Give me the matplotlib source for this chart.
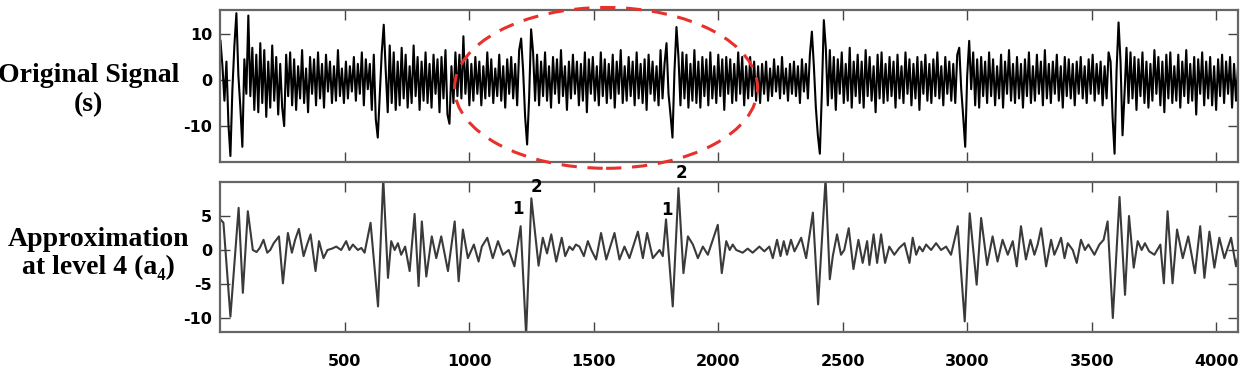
import numpy as np
import matplotlib.pyplot as plt
from matplotlib.patches import Ellipse

plt.rcParams['axes.unicode_minus'] = False

# senal original, leida a ojo cada 8 muestras
paso = 8
senal_original = [
    8.5, 3.0, -4.5, 4.0, -9.5, -16.5, -2.0, 7.5, 14.5, 1.0, -6.0, -14.5, 4.5, -3.0, 14.0, -3.5,
    7.0, -6.5, 5.5, -7.0, 8.0, -5.0, 6.5, -8.0, 4.0, -6.0, 7.5, -4.5, 5.0, -7.5, 3.5, -6.0,
    -10.0, 5.5, -3.5, 6.0, -5.5, 4.5, -6.5, 3.0, -4.0, 6.5, -5.0, 2.5, -7.0, 5.0, -3.0, 4.5,
    -5.5, 6.0, -4.0, 3.5, -6.0, 5.5, -2.5, 4.0, -5.0, 3.0, -4.5, 6.5, -3.5, 2.5, -5.0, 4.0,
    -4.0, 3.0, -2.5, 5.0, -4.5, 3.5, -3.0, 6.0, -5.5, 4.5, -2.0, 3.5, -6.5, 5.5, -8.5, -12.5,
    -3.0, 6.0, 12.0, 2.0, -7.0, 7.5, -5.0, 6.0, -6.5, 4.0, -5.5, 7.0, -4.0, 5.5, -6.0, 3.0,
    -5.0, 7.5, -3.5, 5.0, -6.5, 4.0, -4.5, 6.0, -5.0, 3.5, -6.0, 5.5, -3.0, 4.5, -7.0, 5.0,
    -4.0, 6.5, -7.5, -9.5, 3.0, -5.0, 6.0, -3.5, 5.5, -4.0, 9.5, -3.0, 4.5, -5.5, 3.5, -4.5,
    5.0, -3.0, 4.0, -5.5, 3.0, -4.0, 6.0, -3.5, 4.5, -5.0, 2.5, -3.5, 5.5, -4.5, 3.0, -6.0,
    4.5, -3.0, 5.0, -4.0, 3.5, -5.5, 6.5, 9.0, 2.0, -8.0, -14.0, -4.0, 11.0, 6.0, -4.5, 5.5,
    -5.5, 4.0, -3.5, 6.0, -4.5, 3.0, -6.0, 5.0, -3.0, 4.5, -5.0, 6.5, -3.5, 3.0, -6.5, 4.0,
    -4.0, 5.5, -3.0, 4.0, -5.5, 3.5, -4.5, 6.0, -7.0, 4.5, -3.0, 5.0, -4.5, 3.0, -5.5, 6.0,
    -3.5, 4.5, -5.0, 3.5, -4.0, 5.5, -6.0, 4.0, -3.0, 6.5, -5.0, 3.0, -4.5, 5.0, -3.5, 4.0,
    -5.5, 6.0, -4.0, 3.5, -5.0, 4.5, -6.5, 5.5, -3.0, 4.0, -4.5, 3.0, -5.5, 6.5, -4.0, 3.5,
    8.0, -3.0, -7.5, -12.5, 2.0, 11.5, 5.0, -5.5, 6.0, -4.0, 5.5, -6.0, 3.5, -4.5, 6.5, -5.0,
    4.0, -6.0, 5.0, -3.5, 4.5, -5.5, 6.0, -4.0, 3.0, -5.0, 5.5, -3.5, 4.5, -6.5, 5.0, -3.0,
    4.5, -5.0, 3.5, -4.5, 6.0, -3.0, 5.0, -5.5, 3.0, -4.0, 5.0, -3.5, 4.0, -4.5, 3.0, -5.0,
    3.5, -3.0, 4.0, -4.5, 2.5, -3.5, 4.5, -2.5, 3.0, -4.0, 5.0, -3.0, 2.5, -4.5, 3.5, -3.0,
    4.0, -3.5, 3.0, -5.0, 4.5, -2.5, 3.5, -4.0, 5.5, 10.5, 3.0, -6.0, -12.0, -16.0, -3.0, 13.0,
    7.0, -5.5, 6.5, -4.0, 5.0, -6.5, 4.5, -3.0, 6.0, -5.0, 3.5, -4.5, 7.0, -6.0, 4.0, -3.5,
    5.5, -5.0, 4.0, -6.0, 6.5, -3.5, 5.0, -4.5, 3.0, -7.0, 5.5, -4.0, 6.0, -5.0, 3.5, -4.5,
    5.0, -3.5, 4.0, -6.0, 5.5, -4.0, 3.0, -5.0, 6.0, -3.0, 4.5, -5.5, 3.5, -4.0, 5.0, -6.5,
    4.0, -3.0, 5.5, -4.5, 3.5, -5.0, 4.5, -3.5, 6.0, -4.0, 3.0, -5.5, 5.0, -3.0, 4.0, -4.5,
    3.5, -5.0, 5.5, 7.0, -2.0, -8.0, -14.5, 1.0, 8.5, -2.0, 6.0, -5.5, 4.5, -6.0, 5.0, -3.5,
    4.0, -5.0, 6.0, -3.5, 4.5, -5.5, 3.0, -4.0, 5.5, -6.0, 4.0, -3.0, 6.5, -4.5, 3.5, -5.0,
    5.0, -4.0, 3.5, -6.0, 4.5, -3.5, 6.0, -5.0, 3.0, -4.5, 5.5, -3.0, 4.0, -5.5, 6.5, -4.0,
    3.5, -5.0, 4.0, -3.0, 5.5, -4.5, 3.0, -6.0, 5.0, -3.5, 4.5, -4.0, 3.5, -5.5, 4.0, -3.0,
    5.0, -4.0, 3.0, -5.0, 4.5, -3.0, 5.5, -4.5, 3.5, -3.0, 4.0, -5.5, 3.0, -4.0, 6.0, 4.0,
    -8.0, -16.0, 2.0, 12.5, 4.0, -12.0, -3.0, 7.0, -5.0, 6.0, -4.0, 5.0, -6.5, 4.5, -3.5, 6.0,
    -5.0, 4.0, -6.0, 3.5, -4.5, 6.5, -3.0, 5.0, -5.5, 4.0, -7.0, 5.5, -4.0, 6.0, -5.0, 3.0,
    -4.5, 5.5, -6.0, 4.0, -3.5, 6.5, -5.0, 3.5, -4.5, 5.0, -7.5, 4.5, -3.0, 6.0, -5.5, 4.0,
    -4.0, 5.0, -5.5, 3.0, -6.5, 4.5, -3.5, 5.5, -5.0, 4.0, -3.0, 5.0, -6.0, 3.5, -4.5, 3.0,
]

# aproximacion a4: maximos, minimos y cruces
muestras_a4 = [
    0, 12, 40, 73, 90, 110, 130, 145, 158, 173, 188, 200, 214, 235, 251, 271,
    287, 300, 315, 334, 348, 362, 382, 396, 414, 430, 448, 465, 485, 505, 518, 532,
    552, 566, 579, 603, 633, 654, 673, 686, 700, 713, 726, 742, 760, 780, 796, 809,
    827, 849, 867, 887, 914, 941, 957, 974, 994, 1018, 1037, 1050, 1072, 1094, 1115, 1135,
    1158, 1181, 1206, 1228, 1249, 1278, 1295, 1312, 1329, 1349, 1371, 1385, 1402, 1415, 1428, 1442,
    1460, 1476, 1490, 1509, 1529, 1550, 1583, 1603, 1623, 1643, 1677, 1697, 1714, 1737, 1764, 1777,
    1790, 1817, 1840, 1860, 1878, 1898, 1918, 1938, 1958, 1998, 2014, 2032, 2046, 2058, 2072, 2098,
    2118, 2138, 2165, 2185, 2205, 2219, 2236, 2250, 2263, 2276, 2292, 2306, 2320, 2333, 2353, 2380,
    2401, 2431, 2448, 2460, 2477, 2493, 2506, 2524, 2543, 2563, 2580, 2598, 2607, 2624, 2638, 2654,
    2670, 2687, 2707, 2727, 2748, 2768, 2781, 2795, 2808, 2821, 2835, 2855, 2875, 2895, 2915, 2935,
    2962, 2990, 3010, 3038, 3056, 3080, 3102, 3122, 3142, 3163, 3183, 3199, 3216, 3236, 3254, 3270,
    3283, 3297, 3317, 3337, 3350, 3364, 3377, 3391, 3404, 3424, 3440, 3457, 3473, 3487, 3511, 3531,
    3548, 3564, 3585, 3612, 3634, 3650, 3669, 3685, 3701, 3714, 3731, 3752, 3776, 3790, 3805, 3825,
    3843, 3866, 3888, 3915, 3936, 3953, 3973, 3993, 4013, 4033, 4060, 4080, 4096,
]
valores_a4 = [
    4.5, 4.0, -9.8, 6.2, -6.3, 5.7, 0.0, -0.3, 0.3, 1.5, -0.4, 0.0, 1.0, 2.0, -4.9, 2.5,
    -0.4, 1.5, 3.1, -0.9, 0.8, 2.3, -3.1, 1.3, -1.2, 0.0, 0.2, 0.5, 0.0, 1.3, 0.0, 0.8,
    0.0, 0.3, -0.4, 4.0, -8.3, 10.5, -4.1, 1.3, 0.0, 1.0, -0.7, 0.5, -3.1, 5.3, -5.3, 4.2,
    -3.9, 2.0, -1.2, 2.0, -3.1, 4.2, -4.6, 3.0, -1.2, 0.8, -1.7, 0.5, 1.8, -1.2, 1.3, -0.7,
    0.0, -2.4, 3.5, -12.5, 7.6, -2.3, 1.8, -0.5, 2.3, -1.7, 1.8, -0.9, 0.5, 0.0, 0.8, 0.5,
    -0.9, 1.3, 0.0, -1.4, 2.5, -1.4, 2.5, -1.4, 0.5, -1.2, 2.7, -1.2, 2.5, -1.2, 0.0, -0.9,
    4.5, -8.3, 9.1, -3.4, 2.0, 0.8, -1.2, 0.5, -0.7, 3.7, -3.4, 1.3, 0.0, 0.8, 0.0, -0.4,
    0.2, -0.4, 0.5, -0.2, 0.5, -1.2, 1.5, -0.9, 1.3, -0.7, 1.5, -0.2, 0.8, 1.8, -1.2, 5.5,
    -8.0, 10.5, -4.3, -0.9, 2.3, -0.7, 0.0, 3.2, -2.8, 1.5, -1.9, 1.3, -2.2, 2.3, -1.9, 2.3,
    -1.9, 0.5, -0.7, 0.3, 1.0, -1.9, 1.8, -0.7, 0.5, -0.2, 0.8, 0.0, 1.0, 0.0, 0.5, -0.7,
    3.5, -10.5, 5.4, -5.1, 4.7, -2.2, 2.0, -1.7, 1.5, -0.7, 1.3, -2.4, 3.5, -1.4, 1.5, -0.7,
    0.8, 3.2, -2.4, 1.5, -0.7, 0.5, 1.8, -1.2, 1.0, 0.0, -1.9, 1.5, 0.0, 0.8, -0.7, 0.8,
    1.5, 4.2, -10.0, 7.8, -6.6, 5.0, -2.6, 1.3, 0.0, 1.0, -0.2, -0.7, 0.8, -4.9, 5.7, -4.9,
    3.0, -1.2, 2.0, -3.4, 3.5, -4.1, 2.7, -2.6, 1.8, -1.2, 1.8, -2.4, 0.3,
]

ticks_x = [500, 1000, 1500, 2000, 2500, 3000, 3500, 4000]
ticks_y_sup = [-10, 0, 10]
ticks_y_inf = [-10, -5, 0, 5]

muestras_orig = np.arange(len(senal_original)) * paso

fig = plt.figure(figsize=(12.42, 3.74), dpi=100)
ax1 = fig.add_axes([0.1775, 0.5668, 0.8193, 0.4065])
ax2 = fig.add_axes([0.1775, 0.1123, 0.8193, 0.4011])

ax1.plot(muestras_orig, senal_original, color='black', lw=1.5)
ax2.plot(muestras_a4, valores_a4, color='#3a3a3a', lw=1.5)

ax1.set_ylim(-17.8, 15.2)
ax2.set_ylim(-12.06, 10.0)

for ax, yt in [(ax1, ticks_y_sup), (ax2, ticks_y_inf)]:
    ax.set_xlim(0, 4088)
    ax.set_xticks(ticks_x)
    ax.set_yticks(yt)
    ax.tick_params(direction='in', length=7, width=1, top=True, right=True,
                   color='#444444', labelsize=11.5, pad=6)
    for s in ax.spines.values():
        s.set_color('#666666')
        s.set_linewidth(1.6)
    for lab in ax.get_yticklabels():
        lab.set_fontweight('bold')

ax1.set_xticklabels([])
ax2.tick_params(axis='x', pad=16)
for lab in ax2.get_xticklabels():
    lab.set_fontweight('bold')

# nombres a la izquierda
fig.text(0.0713, 0.759, 'Original Signal\n(s)', ha='center', va='center',
         fontsize=20, fontweight='bold', family=['Liberation Serif', 'DejaVu Serif'],
         linespacing=1.25)
fig.text(0.079, 0.321, 'Approximation\nat level 4 (a\u2084)', ha='center', va='center',
         fontsize=20, fontweight='bold', family=['Liberation Serif', 'DejaVu Serif'],
         linespacing=1.15)

# etiquetas 1 y 2
for xx, yy, t in [(1195, 6.0, '1'), (1271, 9.3, '2'), (1794, 5.9, '1'), (1850, 11.3, '2')]:
    ax2.text(xx, yy, t, ha='center', va='center', fontsize=12, fontweight='bold',
             clip_on=False)

# elipse roja
elipse = Ellipse((0.488, 0.765), 0.244, 0.43, transform=fig.transFigure,
                 fill=False, edgecolor='#e8302c', lw=2.2, linestyle=(0, (5, 3.5)))
fig.patches.append(elipse)

plt.savefig('out.png', dpi=100)
